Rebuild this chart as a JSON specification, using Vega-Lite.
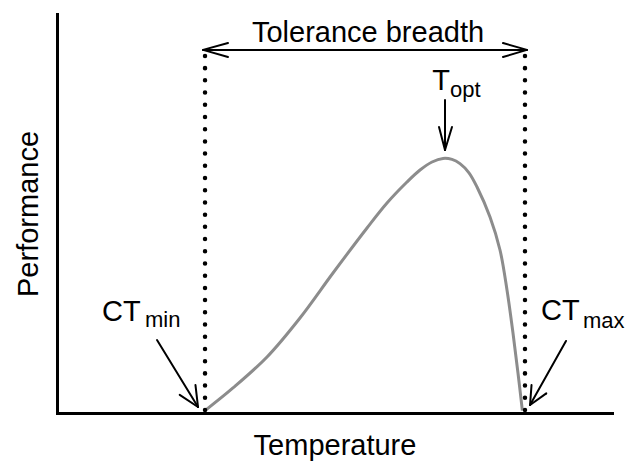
{
  "$schema": "https://vega.github.io/schema/vega-lite/v6.json",
  "width": 555,
  "height": 399,
  "autosize": "none",
  "padding": {"left": 57, "top": 14, "right": 17, "bottom": 48},
  "background": "white",
  "config": {
    "view": {"stroke": null},
    "font": "Liberation Sans",
    "axis": {
      "domainColor": "black",
      "domainWidth": 3,
      "domainCap": "square",
      "ticks": false,
      "labels": false,
      "grid": false,
      "titleFont": "Liberation Sans",
      "titleFontSize": 29,
      "titleFontWeight": "normal",
      "titleColor": "black"
    }
  },
  "datasets": {
    "curve": [
      {"x": 26.67, "y": 0.6},
      {"x": 31.71, "y": 6.27},
      {"x": 37.84, "y": 14.04},
      {"x": 43.78, "y": 23.81},
      {"x": 49.73, "y": 35.09},
      {"x": 55.86, "y": 46.37},
      {"x": 59.46, "y": 52.63},
      {"x": 63.06, "y": 57.89},
      {"x": 65.41, "y": 60.9},
      {"x": 67.57, "y": 62.91},
      {"x": 69.55, "y": 63.8},
      {"x": 71.17, "y": 63.55},
      {"x": 72.61, "y": 62.5},
      {"x": 74.23, "y": 60.2},
      {"x": 75.68, "y": 56.64},
      {"x": 78.02, "y": 49.12},
      {"x": 79.82, "y": 40.85},
      {"x": 81.08, "y": 30.83},
      {"x": 82.16, "y": 20.05},
      {"x": 83.06, "y": 10.03},
      {"x": 83.85, "y": 0.6}
    ],
    "dots": [
      {"x": 26.67, "y": 0.75, "y2": 90.98},
      {"x": 84.32, "y": 0.75, "y2": 90.98}
    ],
    "arrows": [
      {"x": 26.4, "y": 91.0, "x2": 84.6, "y2": 91.0},
      {"x": 26.31, "y": 91.0, "x2": 30.81, "y2": 92.73},
      {"x": 26.31, "y": 91.0, "x2": 30.81, "y2": 89.22},
      {"x": 84.68, "y": 91.0, "x2": 80.36, "y2": 92.73},
      {"x": 84.68, "y": 91.0, "x2": 80.36, "y2": 89.22},
      {"x": 69.91, "y": 78.45, "x2": 69.91, "y2": 65.91},
      {"x": 68.83, "y": 71.68, "x2": 69.91, "y2": 65.91},
      {"x": 71.17, "y": 71.68, "x2": 69.91, "y2": 65.91},
      {"x": 18.02, "y": 18.3, "x2": 25.41, "y2": 1.5},
      {"x": 22.11, "y": 4.54, "x2": 25.41, "y2": 1.5},
      {"x": 24.95, "y": 6.99, "x2": 25.41, "y2": 1.5},
      {"x": 91.71, "y": 18.05, "x2": 85.23, "y2": 2.01},
      {"x": 85.5, "y": 6.99, "x2": 85.23, "y2": 2.01},
      {"x": 88.16, "y": 4.91, "x2": 85.23, "y2": 2.01}
    ],
    "heading": [
      {"x": 56.04, "y": 92.98, "text": "Tolerance breadth"}
    ],
    "mainText": [
      {"x": 8.1, "y": 23.06, "text": "CT"},
      {"x": 87.2, "y": 23.31, "text": "CT"},
      {"x": 67.6, "y": 80.95, "text": "T"}
    ],
    "subText": [
      {"x": 15.86, "y": 21.55, "text": "min"},
      {"x": 94.77, "y": 21.3, "text": "max"},
      {"x": 70.81, "y": 79.2, "text": "opt"}
    ]
  },
  "encoding": {
    "x": {
      "field": "x",
      "type": "quantitative",
      "scale": {"domain": [0, 100], "nice": false, "zero": false},
      "axis": {"title": "Temperature", "titlePadding": 18}
    },
    "y": {
      "field": "y",
      "type": "quantitative",
      "scale": {"domain": [0, 100], "nice": false, "zero": false},
      "axis": {"title": "Performance", "titlePadding": 14}
    }
  },
  "layer": [
    {
      "data": {"name": "curve"},
      "mark": {"type": "line", "color": "#8c8c8c", "strokeWidth": 3, "interpolate": "catmull-rom"}
    },
    {
      "data": {"name": "dots"},
      "mark": {"type": "rule", "color": "black", "strokeWidth": 4.5, "strokeCap": "round", "strokeDash": [0.01, 12.2]},
      "encoding": {"y2": {"field": "y2"}}
    },
    {
      "data": {"name": "arrows"},
      "mark": {"type": "rule", "color": "black", "strokeWidth": 2, "strokeCap": "round"},
      "encoding": {"x2": {"field": "x2"}, "y2": {"field": "y2"}}
    },
    {
      "data": {"name": "heading"},
      "mark": {"type": "text", "align": "center", "baseline": "alphabetic", "fontSize": 29, "color": "black", "font": "Liberation Sans"},
      "encoding": {"text": {"field": "text"}}
    },
    {
      "data": {"name": "mainText"},
      "mark": {"type": "text", "align": "left", "baseline": "alphabetic", "fontSize": 29, "color": "black", "font": "Liberation Sans"},
      "encoding": {"text": {"field": "text"}}
    },
    {
      "data": {"name": "subText"},
      "mark": {"type": "text", "align": "left", "baseline": "alphabetic", "fontSize": 22, "color": "black", "font": "Liberation Sans"},
      "encoding": {"text": {"field": "text"}}
    }
  ]
}
